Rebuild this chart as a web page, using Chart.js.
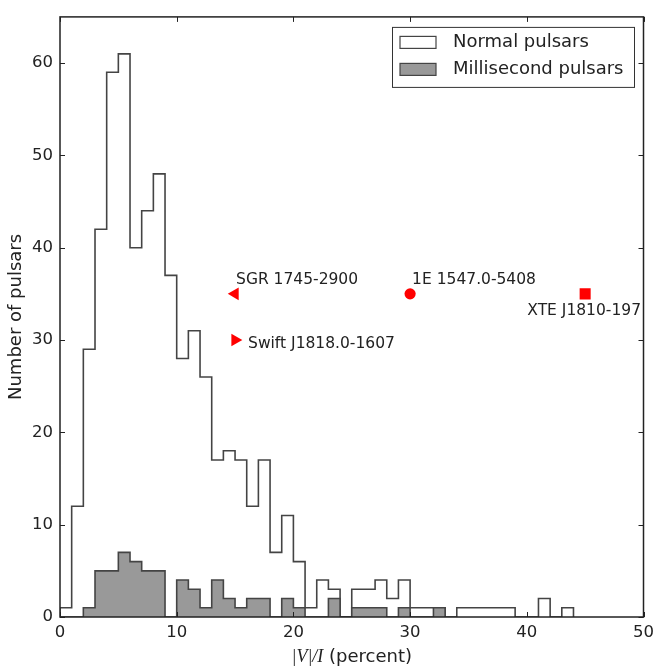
<!DOCTYPE html>
<html>
<head>
<meta charset="utf-8">
<script src="https://cdn.jsdelivr.net/npm/chart.js@4.4.0/dist/chart.umd.min.js"></script>
<style>
  html, body { margin: 0; padding: 0; background: #fff; }
</style>
</head>
<body>
<canvas id="histChart" width="660" height="671"></canvas>
<script>
// bins are 1 percent wide, left edges
const binEdges = [0, 1, 2, 3, 4, 5, 6, 7, 8, 9, 10, 11, 12, 13, 14, 15, 16, 17, 18, 19, 20, 21,
    22, 23, 24, 25, 26, 27, 28, 29, 30, 31, 32, 33, 34, 35, 36, 37, 38, 39, 40, 41, 42, 43, 44];
const normalCounts = [1, 12, 29, 42, 59, 61, 40, 44, 48, 37, 28, 31, 26, 17, 18, 17, 12, 17, 7, 11,
    6, 1, 4, 3, 0, 3, 3, 4, 2, 4, 1, 1, 1, 0, 1, 1, 1, 1, 1, 0, 0, 2, 0, 1];
const msCounts = [0, 0, 1, 5, 5, 7, 6, 5, 5, 0, 4, 3, 1, 4, 2, 1, 2, 2, 0, 2, 1, 0, 0, 2, 0, 1, 1, 1,
    0, 1, 0, 0, 1];

const magnetarNames = ['SGR 1745-2900', 'Swift J1818.0-1607', '1E 1547.0-5408', 'XTE J1810-197'];
const magnetarV = [15, 15, 30, 45];
const magnetarN = [35, 30, 35, 35];

const xTicks = [0, 10, 20, 30, 40, 50];
const yTicks = [0, 10, 20, 30, 40, 50, 60];

// stepfilled outline: rise at the first edge, hold each count across its bin, drop at the end
function stepPoints(counts) {
    const pts = [{ x: binEdges[0], y: 0 }];
    counts.forEach((c, i) => pts.push({ x: binEdges[i], y: c }));
    pts.push({ x: binEdges[counts.length], y: 0 });
    return pts;
}

const SANS = '"DejaVu Sans", sans-serif';

const frameTicks = {
    id: 'frameTicks',
    afterDatasetsDraw(chart) {
        const { ctx, chartArea: a, scales: { x, y } } = chart;
        ctx.save();
        ctx.strokeStyle = '#222';
        ctx.lineWidth = 1;
        ctx.beginPath();
        xTicks.forEach(v => {
            const px = Math.round(x.getPixelForValue(v)) + 0.5;
            ctx.moveTo(px, a.bottom); ctx.lineTo(px, a.bottom - 5);
            ctx.moveTo(px, a.top); ctx.lineTo(px, a.top + 5);
        });
        yTicks.forEach(v => {
            const py = Math.round(y.getPixelForValue(v)) + 0.5;
            ctx.moveTo(a.left, py); ctx.lineTo(a.left + 5, py);
            ctx.moveTo(a.right, py); ctx.lineTo(a.right - 5, py);
        });
        ctx.stroke();
        ctx.lineWidth = 1.5;
        ctx.strokeRect(a.left, a.top, a.width, a.height);
        ctx.restore();
    }
};

const labelsAndLegend = {
    id: 'labelsAndLegend',
    afterDraw(chart) {
        const { ctx, chartArea: a } = chart;
        ctx.save();

        // magnetar names next to their markers
        const meta = chart.getDatasetMeta(2);
        const offsets = [[1, -14, 'left'], [13, 4, 'left'], [2, -14, 'left'], [-1, 17, 'center']];
        ctx.font = '15.5px ' + SANS;
        ctx.fillStyle = '#222';
        ctx.textBaseline = 'middle';
        meta.data.forEach((pt, i) => {
            const [dx, dy, align] = offsets[i];
            ctx.textAlign = align;
            ctx.fillText(magnetarNames[i], pt.x + dx, pt.y + dy);
        });

        // legend box, top right inside the axes
        const bx = a.right - 251.5, by = a.top + 10, bw = 242, bh = 60;
        ctx.fillStyle = '#fff';
        ctx.fillRect(bx, by, bw, bh);
        ctx.strokeStyle = '#333';
        ctx.lineWidth = 1;
        ctx.strokeRect(bx + 0.5, by + 0.5, bw, bh);
        ctx.font = '18px ' + SANS;
        ctx.textAlign = 'left';
        [0, 1].forEach((di, row) => {
            const ds = chart.data.datasets[di];
            const cy = by + 15.5 + row * 27;
            ctx.fillStyle = ds.backgroundColor;
            ctx.fillRect(bx + 8, cy - 6, 36, 12);
            ctx.strokeStyle = ds.borderColor;
            ctx.lineWidth = 1.2;
            ctx.strokeRect(bx + 8, cy - 6, 36, 12);
            ctx.fillStyle = '#222';
            ctx.fillText(ds.label, bx + 61, cy);
        });

        // x axis title: math part in italic serif, rest in sans
        const mathPart = '|V|/I', restPart = ' (percent)';
        ctx.font = 'italic 18px "Liberation Serif", serif';
        const w1 = ctx.measureText(mathPart).width;
        ctx.font = '18px ' + SANS;
        const w2 = ctx.measureText(restPart).width;
        let tx = (a.left + a.right) / 2 - (w1 + w2) / 2;
        const ty = 657;
        ctx.font = 'italic 18px "Liberation Serif", serif';
        ctx.fillText(mathPart, tx, ty);
        ctx.font = '18px ' + SANS;
        ctx.fillText(restPart, tx + w1, ty);
        ctx.restore();
    }
};

new Chart(document.getElementById('histChart'), {
    type: 'line',
    data: {
        datasets: [
            {
                label: 'Normal pulsars',
                data: stepPoints(normalCounts),
                stepped: 'before',
                fill: 'origin',
                backgroundColor: '#ffffff',
                borderColor: '#444444',
                borderWidth: 1.6,
                pointRadius: 0,
                order: 2
            },
            {
                label: 'Millisecond pulsars',
                data: stepPoints(msCounts),
                stepped: 'before',
                fill: 'origin',
                backgroundColor: '#999999',
                borderColor: '#444444',
                borderWidth: 1.6,
                pointRadius: 0,
                order: 1
            },
            {
                label: 'Magnetars',
                data: magnetarV.map((v, i) => ({ x: v, y: magnetarN[i] })),
                showLine: false,
                pointStyle: ['triangle', 'triangle', 'circle', 'rect'],
                pointRotation: [-90, 90, 0, 0],
                pointRadius: [7.3, 7.3, 5.6, 7.8],
                pointBackgroundColor: '#ff0000',
                pointBorderColor: '#ff0000',
                pointBorderWidth: 0,
                order: 0
            }
        ]
    },
    options: {
        responsive: false,
        animation: false,
        events: [],
        layout: { padding: { top: 9, right: 11, left: 0, bottom: 0 } },
        plugins: {
            legend: { display: false },
            tooltip: { enabled: false }
        },
        scales: {
            x: {
                type: 'linear',
                min: 0,
                max: 50,
                afterBuildTicks: (scale) => { scale.ticks = xTicks.map(v => ({ value: v })); },
                afterFit: (scale) => { scale.height = 54; },
                grid: { display: false, drawTicks: false },
                border: { display: false },
                ticks: { color: '#222', padding: 6, font: { family: SANS, size: 16.5 }, maxRotation: 0 }
            },
            y: {
                type: 'linear',
                min: 0,
                max: 65,
                afterBuildTicks: (scale) => { scale.ticks = yTicks.map(v => ({ value: v })); },
                afterFit: (scale) => { scale.width = 60; },
                grid: { display: false, drawTicks: false },
                border: { display: false },
                ticks: { color: '#222', padding: 7, font: { family: SANS, size: 16.5 } },
                title: {
                    display: true,
                    text: 'Number of pulsars',
                    color: '#222',
                    font: { family: SANS, size: 18 },
                    padding: { top: 6, bottom: 0 }
                }
            }
        }
    },
    plugins: [frameTicks, labelsAndLegend]
});
</script>
</body>
</html>
